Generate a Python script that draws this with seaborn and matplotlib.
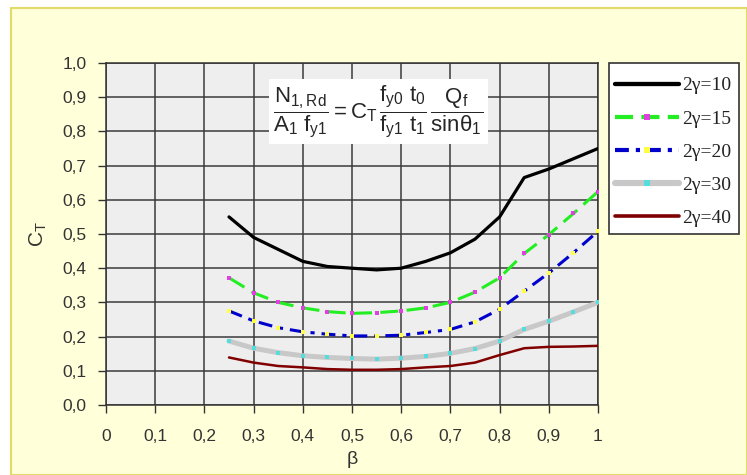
import matplotlib
matplotlib.use("Agg")
import matplotlib.pyplot as plt
import seaborn as sns
from matplotlib.lines import Line2D
from matplotlib.patches import Rectangle

beta = [0.25, 0.30, 0.35, 0.40, 0.45, 0.50, 0.55, 0.60,
        0.65, 0.70, 0.75, 0.80, 0.85, 0.90, 0.95, 1.00]

ct_10 = [0.55, 0.49, 0.455, 0.42, 0.405, 0.40, 0.395, 0.40,
         0.42, 0.445, 0.485, 0.55, 0.665, 0.69, 0.72, 0.75]
ct_15 = [0.372, 0.328, 0.30, 0.284, 0.273, 0.268, 0.27, 0.275,
         0.284, 0.30, 0.33, 0.372, 0.443, 0.498, 0.56, 0.624]
ct_20 = [0.275, 0.246, 0.226, 0.214, 0.207, 0.202, 0.202, 0.204,
         0.212, 0.221, 0.243, 0.28, 0.333, 0.386, 0.445, 0.508]
ct_30 = [0.187, 0.166, 0.153, 0.144, 0.139, 0.136, 0.134, 0.137,
         0.142, 0.151, 0.165, 0.187, 0.221, 0.245, 0.272, 0.30]
ct_40 = [0.139, 0.124, 0.114, 0.11, 0.105, 0.103, 0.103, 0.105,
         0.11, 0.114, 0.124, 0.146, 0.166, 0.17, 0.171, 0.173]

series_labels = ["2\u03b3=10", "2\u03b3=15", "2\u03b3=20", "2\u03b3=30", "2\u03b3=40"]
x_ticks = [0, 0.1, 0.2, 0.3, 0.4, 0.5, 0.6, 0.7, 0.8, 0.9, 1.0]
x_tick_labels = ["0", "0,1", "0,2", "0,3", "0,4", "0,5", "0,6", "0,7", "0,8", "0,9", "1"]
y_ticks = [0, 0.1, 0.2, 0.3, 0.4, 0.5, 0.6, 0.7, 0.8, 0.9, 1.0]
y_tick_labels = ["0,0", "0,1", "0,2", "0,3", "0,4", "0,5", "0,6", "0,7", "0,8", "0,9", "1,0"]

sns.set_style("ticks")
plt.rcParams["font.family"] = ["Liberation Sans", "DejaVu Sans"]
plt.rcParams["mathtext.fontset"] = "custom"
plt.rcParams["mathtext.rm"] = "Liberation Sans"
plt.rcParams["mathtext.it"] = "Liberation Sans"
plt.rcParams["mathtext.bf"] = "Liberation Sans:bold"
plt.rcParams["lines.scale_dashes"] = False

W, H = 747, 475
fig = plt.figure(figsize=(W / 100, H / 100), dpi=100, facecolor="white")

# pale yellow chart frame
fig.patches.append(Rectangle((11 / W, 0), 1 - 11 / W, 1 - 8 / H, transform=fig.transFigure,
                             facecolor="#FFFFDA", edgecolor="#E2DA6A", linewidth=1.5, zorder=-5))
# legend box drawn by hand (excel style, tight sides)
fig.patches.append(Rectangle((609 / W, 1 - 234 / H), 130 / W, 171 / H, transform=fig.transFigure,
                             facecolor="white", edgecolor="#333333", linewidth=1.2, zorder=2.8))

ax = fig.add_axes([106 / W, 1 - 405 / H, (598 - 106) / W, (405 - 63) / H])
ax.set_zorder(2)
ax.set_facecolor("#EEEEEE")

styles = [
    dict(y=ct_10, color="black", linewidth=2.3, linestyle="-"),
    dict(y=ct_15, color="#22EE22", linewidth=2.2, linestyle=(0, (13, 6)),
         marker="s", markersize=3, markerfacecolor="#E040E0", markeredgewidth=0),
    dict(y=ct_20, color="#0000CC", linewidth=2.2, linestyle=(0, (10, 5, 3, 5)),
         marker="s", markersize=3, markerfacecolor="#FFFF44", markeredgewidth=0),
    dict(y=ct_30, color="#C8C8C8", linewidth=3.6, linestyle="-",
         marker="s", markersize=3, markerfacecolor="#55DDDD", markeredgewidth=0),
    dict(y=ct_40, color="#800000", linewidth=1.8, linestyle="-"),
]
for st in styles:
    st = dict(st)
    y = st.pop("y")
    sns.lineplot(x=beta, y=y, ax=ax, zorder=3, **st)

ax.set_xlim(0, 1)
ax.set_ylim(0, 1)
ax.set_xticks(x_ticks)
ax.set_xticklabels(x_tick_labels)
ax.set_yticks(y_ticks)
ax.set_yticklabels(y_tick_labels)
ax.tick_params(axis="both", direction="out", length=6, width=1, color="#333333",
               labelsize=12.5, labelcolor="#333333", pad=8)
ax.tick_params(axis="x", pad=11)
ax.grid(True, color="#3A3A3A", linewidth=1.1)
ax.set_axisbelow(True)
for sp in ax.spines.values():
    sp.set_color("#333333")
    sp.set_linewidth(1.1)

ax.set_xlabel("\u03b2", fontsize=14, color="#333333", labelpad=5)
ax.set_ylabel(r"$\mathrm{C_T}$", fontsize=15, color="#333333", labelpad=10)

formula = (r"$\dfrac{\mathrm{N_{1,Rd}}}{\mathrm{A_1\ f_{y1}}} = \mathrm{C_T}\,"
           r"\dfrac{\mathrm{f_{y0}\ t_0}}{\mathrm{f_{y1}\ t_1}}\,"
           r"\dfrac{\mathrm{Q_f}}{\mathrm{sin\theta_1}}$")
ax.text(0.553, 0.857, formula, fontsize=16, ha="center", va="center", zorder=5,
        bbox=dict(boxstyle="square,pad=0.2", facecolor="white", edgecolor="none"))

handles = []
for st in styles:
    kw = {k: v for k, v in st.items() if k != "y"}
    kw["linewidth"] = kw["linewidth"] + 0.8
    if "markersize" in kw:
        kw["markersize"] = 4
    handles.append(Line2D([0], [0], **kw))
leg = fig.legend(handles, series_labels, loc="upper left", numpoints=1,
                 bbox_to_anchor=(609 / W, 1 - 71 / H), bbox_transform=fig.transFigure,
                 borderaxespad=0, frameon=False,
                 handlelength=3.3, handletextpad=0.15, labelspacing=0.8,
                 borderpad=0.3, prop={"family": "Liberation Serif", "size": 14})
leg.set_zorder(3)
for t in leg.get_texts():
    t.set_color("#222222")

fig.savefig("out.png", dpi=100, facecolor=fig.get_facecolor())
